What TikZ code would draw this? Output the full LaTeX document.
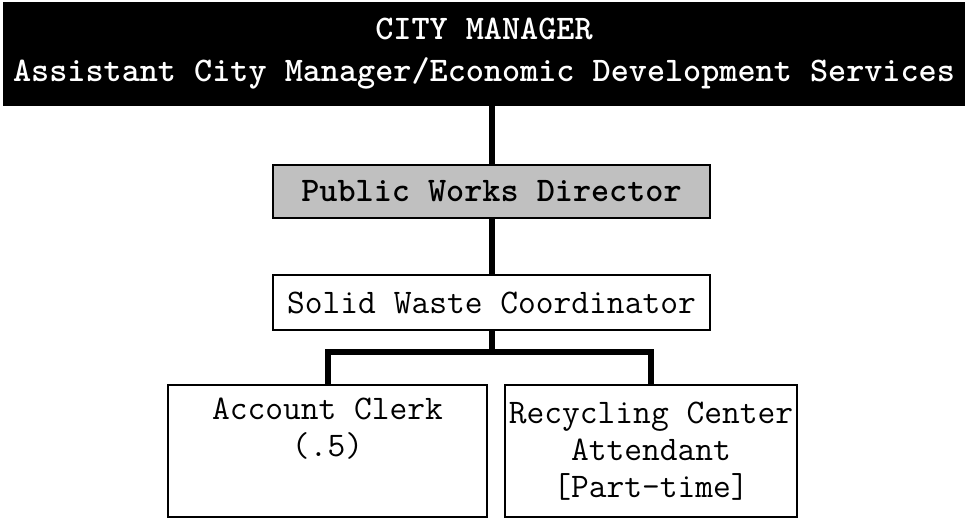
\documentclass[tikz,border=0pt]{standalone}
\usetikzlibrary{positioning,calc}

\definecolor{dirgray}{HTML}{C0C0C0}

\tikzset{
	post/.style={draw=black, line width=2pt, inner sep=0pt, align=center,
		font=\ttfamily\fontsize{34.5}{37}\selectfont},
	headpost/.style={post, fill=black, text=white, font=\ttfamily\bfseries\fontsize{34.5}{42}\selectfont},
	dirpost/.style={post, fill=dirgray, font=\ttfamily\bfseries\fontsize{34.5}{37}\selectfont},
	link/.style={line width=6pt, line join=miter}
}

\begin{document}
\begin{tikzpicture}[x=1pt,y=-1pt]
	\useasboundingbox (0,0) rectangle (965,519);

	\node[headpost, minimum width=961pt, minimum height=101pt] (cm) at (484,54)
		{CITY MANAGER\\Assistant City Manager/Economic Development Services};
	\node[dirpost, minimum width=437pt, minimum height=53pt] (pwd) at (491.5,191.5)
		{Public Works Director};
	\node[post, minimum width=437pt, minimum height=55pt] (swc) at (491.5,302.5)
		{Solid Waste Coordinator};
	\node[post, minimum width=319pt, minimum height=132pt] (ac) at (327.5,451)
		{Account Clerk\\(.5)\\\strut};
	\node[post, minimum width=292pt, minimum height=132pt] (rc) at (651,451)
		{Recycling Center\\Attendant\\{[Part-time]}};

	% reporting lines
	\coordinate (split) at (491.5,352);
	\draw[link] (pwd.north |- cm.south) -- (pwd.north);
	\draw[link] (pwd.south) -- (swc.north);
	\draw[link] (swc.south) -- (split);
	\draw[link] (ac.north) |- (split) -| (rc.north);
\end{tikzpicture}
\end{document}
